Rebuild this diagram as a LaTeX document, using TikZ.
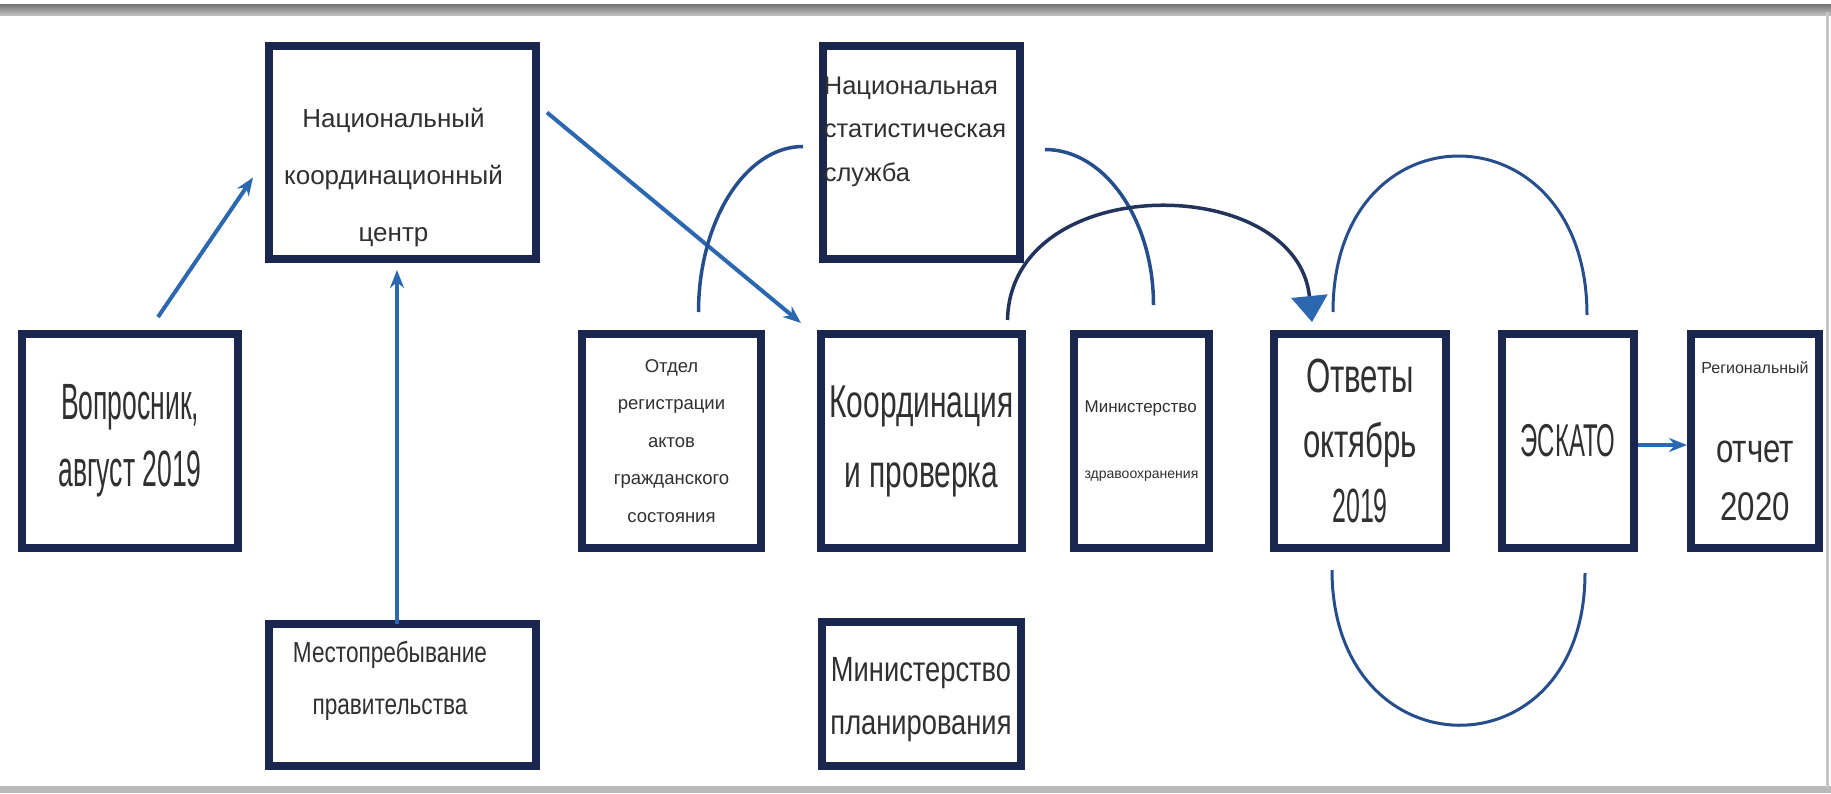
\documentclass[tikz,border=0pt]{standalone}
\usepackage{fontspec}
\setmainfont{Liberation Sans}
\newfontfamily\narrowfont[FakeStretch=0.52]{Liberation Sans}
\newfontfamily\midfont[FakeStretch=0.65]{Liberation Sans}
\newfontfamily\semifont[FakeStretch=0.78]{Liberation Sans}
\usetikzlibrary{arrows.meta}
\definecolor{boxnavy}{RGB}{27,38,78}
\definecolor{arrowblue}{RGB}{44,104,176}
\definecolor{arcblue}{RGB}{38,78,140}
\definecolor{arcdark}{RGB}{34,52,92}
\definecolor{txtgray}{RGB}{48,48,48}
\begin{document}
\begin{tikzpicture}[x=1pt, y=-1pt,
    box/.style={draw=boxnavy, line width=8pt, minimum height=214pt, inner sep=0pt, outer sep=0pt, align=center, text=txtgray},
    txt/.style={draw=none, align=center, text=txtgray, inner sep=0pt},
    arr/.style={draw=arrowblue, line width=4pt, -{Stealth[length=18pt,width=14pt]}},
    bendline/.style={draw=arcblue, line width=3.5pt},
    loopline/.style={draw=arcblue, line width=3pt}]
    \fill[white] (0,0) rectangle (1831,793);
    \shade[top color=gray!90!black, bottom color=gray!50] (0,4) rectangle (1831,15);
    \fill[gray!55] (0,786) rectangle (1831,793);
    \fill[gray!45] (1826,12) rectangle (1829,788);

    \node[box, minimum width=216pt, font=\narrowfont\fontsize{51}{67}\selectfont] (ques) at (130,441) {Вопросник,\\август 2019};
    \node[box, minimum width=267pt, minimum height=213pt,
        label={[txt, font=\fontsize{26}{57}\selectfont, shift={(-9,25)}]center:Национальный\\координационный\\центр}] (nkc) at (402.5,152.5) {};
    \node[box, minimum width=267pt, minimum height=142pt,
        label={[txt, font=\semifont\fontsize{29}{52}\selectfont, shift={(-12.5,-14)}]center:Местопребывание\\правительства}] (gov) at (402.5,695) {};
    \node[box, minimum width=179pt, font=\fontsize{18.5}{37.5}\selectfont] (civil) at (671.5,441) {Отдел\\регистрации\\актов\\гражданского\\состояния};
    \node[box, minimum width=197pt, minimum height=213pt,
        label={[txt, align=left, font=\fontsize{25.5}{43.5}\selectfont, shift={(-6.5,-21)}]center:Национальная\\статистическая\\служба}] (nss) at (921.5,152.5) {};
    \node[box, minimum width=201pt, font=\midfont\fontsize{46}{70}\selectfont] (coord) at (921.5,441) {Координация\\и проверка};
    \node[box, minimum width=199pt, minimum height=144pt,
        label={[txt, font=\semifont\fontsize{35}{53}\selectfont, shift={(0,6)}]center:Министерство\\планирования}] (plan) at (921,694) {};
    \node[box, minimum width=135pt, align=left, font=\fontsize{17}{66}\selectfont] (health) at (1141.5,441) {Министерство\\{\fontsize{14}{14}\selectfont здравоохранения}};
    \node[box, minimum width=172pt, font=\midfont\fontsize{48}{65}\selectfont] (resp) at (1360,441) {Ответы\\октябрь\\{\narrowfont 2019}};
    \node[box, minimum width=132pt, font=\narrowfont\fontsize{46}{46}\selectfont] (escap) at (1568,441) {ЭСКАТО};
    \node[box, minimum width=128pt, font=\semifont\fontsize{40}{58}\selectfont] (report) at (1755,441) {{\normalfont\fontsize{16}{16}\selectfont Региональный}\\[31pt]отчет\\2020};

    \draw[arr] ([shift={(28,-17)}]ques.north) -- ([shift={(-16,25)}]nkc.west);
    \draw[arr] ([shift={(-5.5,0)}]gov.north) -- ([shift={(-5.5,11)}]nkc.south);
    \draw[arr] ([shift={(11,-40)}]nkc.east) -- ([shift={(-20,-11)}]coord.north west);
    \draw[arr] ([shift={(4,4)}]escap.east) -- ([shift={(-4,4)}]report.west);

    \draw[bendline] ([shift={(27,-22)}]civil.north) .. controls +(0,-90) and +(-58,0) .. ([shift={(-20,-6)}]nss.west);
    \draw[bendline] ([shift={(25,-3)}]nss.east) .. controls +(60,0) and +(0,-85) .. ([shift={(12,-29)}]health.north);
    \draw[draw=arcdark, line width=3.5pt, -{Triangle[width=36pt,length=26pt,color=arrowblue]}]
        ([shift={(86,-14)}]coord.north) .. controls +(3,-150) and +(-15,-150) .. ([shift={(-48,-12)}]resp.north);
    \draw[loopline] ([shift={(-27,-22)}]resp.north) .. controls +(0,-210) and +(0,-210) .. ([shift={(19,-19)}]escap.north);
    \draw[loopline] ([shift={(-28,22)}]resp.south) .. controls +(0,205) and +(0,205) .. ([shift={(17,25)}]escap.south);
\end{tikzpicture}
\end{document}
